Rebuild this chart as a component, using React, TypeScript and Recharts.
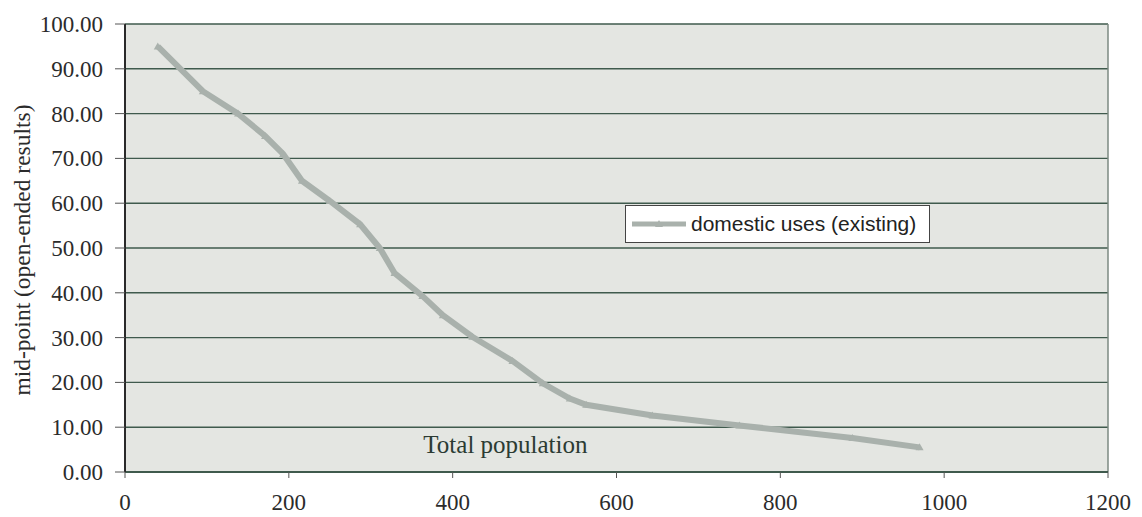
import React from "react";
import {
  LineChart,
  Line,
  XAxis,
  YAxis,
  CartesianGrid,
  Legend,
  ReferenceLine,
} from "recharts";

const population = [40, 95, 138, 171, 193, 216, 250, 287, 311, 329, 363, 388, 424, 473, 510, 543, 563, 644, 750, 888, 970];
const midPoint = [95, 85, 80, 75, 71, 65, 60.5, 55.3, 50, 44.4, 39.3, 35, 30.2, 24.8, 19.8, 16.4, 15, 12.6, 10.4, 7.6, 5.5];
const xTicks = [0, 200, 400, 600, 800, 1000, 1200];
const yTicks = [0, 10, 20, 30, 40, 50, 60, 70, 80, 90, 100];

const data = population.map((p, i) => ({ pop: p, mid: midPoint[i] }));

const LINE = "#a9b1ac";
const GRID = "#3f5a4d";
const SERIF = "'Liberation Serif', 'Times New Roman', serif";

const Triangle = (props: any) => {
  const { cx, cy } = props;
  if (cx == null || cy == null) return null;
  return (
    <path
      d={`M${cx},${cy - 4} L${cx + 4},${cy + 3} L${cx - 4},${cy + 3} Z`}
      fill={LINE}
      stroke="none"
    />
  );
};

const XTick = (props: any) => {
  const { x, y, payload } = props;
  return (
    <text x={x} y={y + 12} textAnchor="middle" fill="#2b2b2b" fontSize={23} fontFamily={SERIF}>
      {payload.value}
    </text>
  );
};

const YTick = (props: any) => {
  const { x, y, payload } = props;
  return (
    <text x={x} y={y} dy={8} textAnchor="end" fill="#2b2b2b" fontSize={23} fontFamily={SERIF}>
      {Number(payload.value).toFixed(2)}
    </text>
  );
};

const LegendBox = () => (
  <div
    style={{
      width: 305,
      height: 38,
      background: "#fff",
      border: "1.5px solid #444",
      display: "flex",
      alignItems: "center",
      boxSizing: "border-box",
    }}
  >
    <svg width={58} height={12} style={{ marginLeft: 4 }}>
      <line x1={2} y1={6} x2={56} y2={6} stroke={LINE} strokeWidth={5} />
      <path d="M29,2 L33,9 L25,9 Z" fill={LINE} />
    </svg>
    <span
      style={{
        fontFamily: "'Liberation Sans', Arial, sans-serif",
        fontSize: 21,
        color: "#222",
        marginLeft: 3,
      }}
    >
      domestic uses (existing)
    </span>
  </div>
);

export default function App() {
  return (
    <div style={{ position: "absolute", left: 0, top: 0, background: "#fff" }}>
      <LineChart
        width={1142}
        height={517}
        data={data}
        margin={{ top: 24, right: 34, left: 0, bottom: 0 }}
      >
        <CartesianGrid
          vertical={false}
          stroke={GRID}
          strokeWidth={1.4}
          fill="#e4e6e2"
          fillOpacity={1}
        />
        <XAxis
          type="number"
          dataKey="pop"
          domain={[0, 1200]}
          ticks={xTicks}
          height={45}
          tickSize={6}
          tickMargin={20}
          axisLine={{ stroke: GRID, strokeWidth: 2 }}
          tickLine={{ stroke: "#555" }}
          tick={<XTick />}
          label={{
            content: (p: any) => {
              const vb = p.viewBox;
              return (
                <text
                  x={vb.x + vb.width * 0.387}
                  y={vb.y - 19}
                  textAnchor="middle"
                  fill="#2b3b33"
                  fontSize={25}
                  fontFamily={SERIF}
                >
                  Total population
                </text>
              );
            },
          }}
        />
        <YAxis
          type="number"
          domain={[0, 100]}
          ticks={yTicks}
          width={125}
          tickSize={10}
          tickMargin={12}
          interval={0}
          axisLine={{ stroke: "#2a2a2a", strokeWidth: 2 }}
          tickLine={{ stroke: "#555" }}
          tick={<YTick />}
          label={{
            content: () => (
              <text
                x={22}
                y={250}
                transform="rotate(-90, 22, 250)"
                textAnchor="middle"
                dominantBaseline="central"
                fill="#2b2b2b"
                fontSize={23.5}
                fontFamily={SERIF}
              >
                mid-point (open-ended results)
              </text>
            ),
          }}
        />
        <ReferenceLine x={1200} stroke="#7d8a82" strokeWidth={1.5} />
        <Legend
          layout="vertical"
          align="center"
          verticalAlign="middle"
          content={<LegendBox />}
          wrapperStyle={{ position: "absolute", left: 625, top: 205, width: 305 }}
        />
        <Line
          type="linear"
          dataKey="mid"
          stroke={LINE}
          strokeWidth={6}
          dot={<Triangle />}
          activeDot={false}
          isAnimationActive={false}
        />
      </LineChart>
    </div>
  );
}
